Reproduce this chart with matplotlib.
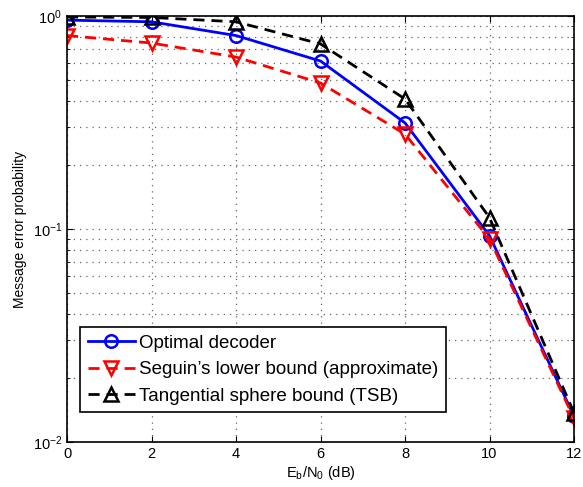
import numpy as np
import matplotlib
matplotlib.use('Agg')
import matplotlib.pyplot as plt

plt.rcParams['font.family'] = ['Liberation Sans', 'DejaVu Sans']

# Data
ebn0 = [0, 2, 4, 6, 8, 10, 12]
optimal = [0.957, 0.94, 0.81, 0.615, 0.315, 0.093, 0.0132]
seguin = [0.81, 0.747, 0.642, 0.485, 0.279, 0.0898, 0.0129]
tsb = [0.99, 0.985, 0.94, 0.74, 0.408, 0.113, 0.0137]

fig = plt.figure(figsize=(5.83, 4.87), dpi=100)
ax = fig.add_axes([0.115, 0.0924, 0.8696, 0.8746])

ax.semilogy(ebn0, optimal, '-', color='#0000ff', lw=2, marker='o', ms=9,
            mfc='none', mec='#0000ff', mew=1.8, label='Optimal decoder')
ax.semilogy(ebn0, seguin, '--', color='#ff0000', lw=2, marker='v', ms=10,
            mfc='none', mec='#ff0000', mew=1.8, dashes=(4, 2.5),
            label='Seguin\u2019s lower bound (approximate)')
ax.semilogy(ebn0, tsb, '--', color='black', lw=2, marker='^', ms=10,
            mfc='none', mec='black', mew=1.8, dashes=(4, 2.5),
            label='Tangential sphere bound (TSB)')

ax.set_xlim(0, 12)
ax.set_ylim(1e-2, 1)
ax.set_xticks(ebn0)
ax.grid(True, which='major', ls=(0, (1, 4)), color='#666666', lw=0.9)
ax.grid(True, which='minor', axis='y', ls=(0, (1, 4)), color='#666666', lw=0.9)
ax.tick_params(which='both', direction='in', top=True, right=True, labelsize=10.5)
ax.tick_params(which='major', length=4)
ax.tick_params(which='minor', length=2)
for s in ax.spines.values():
    s.set_linewidth(1.2)

ax.set_xlabel(r'E$_\mathregular{b}$/N$_\mathregular{0}$ (dB)', fontsize=10.5, labelpad=2)
ax.set_ylabel('Message error probability', fontsize=10, labelpad=4)

leg = ax.legend(loc='lower left', bbox_to_anchor=(0.026, 0.07), fontsize=13.5,
                fancybox=False, framealpha=1, edgecolor='black',
                handlelength=2.5, borderpad=0.4, labelspacing=0.5,
                handletextpad=0.25, borderaxespad=0)
leg.get_frame().set_linewidth(1.2)

fig.savefig('out.png', dpi=100)
